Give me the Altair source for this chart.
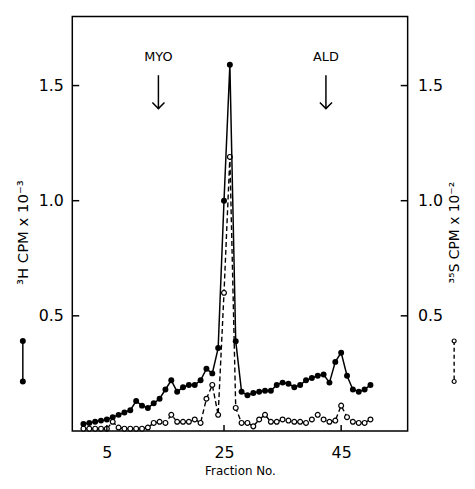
import altair as alt
import pandas as pd

# ---- data ----
fractions = list(range(1, 51))
h3_cpm = [0.03, 0.035, 0.04, 0.045, 0.05, 0.06, 0.07, 0.08, 0.09, 0.13,
          0.11, 0.10, 0.12, 0.14, 0.18, 0.22, 0.17, 0.19, 0.20, 0.20,
          0.22, 0.27, 0.25, 0.36, 1.00, 1.59, 0.39, 0.17, 0.155, 0.165,
          0.17, 0.175, 0.175, 0.20, 0.21, 0.205, 0.19, 0.20, 0.22, 0.23,
          0.24, 0.245, 0.21, 0.30, 0.34, 0.24, 0.18, 0.17, 0.18, 0.20]
s35_cpm = [0.01, 0.01, 0.01, 0.01, 0.01, 0.04, 0.015, 0.01, 0.01, 0.01,
           0.01, 0.015, 0.035, 0.04, 0.035, 0.07, 0.04, 0.04, 0.04, 0.05,
           0.035, 0.14, 0.20, 0.07, 0.60, 1.19, 0.10, 0.035, 0.035, 0.02,
           0.05, 0.07, 0.04, 0.04, 0.05, 0.045, 0.04, 0.04, 0.035, 0.05,
           0.07, 0.05, 0.04, 0.045, 0.11, 0.06, 0.04, 0.035, 0.035, 0.05]
y_ticks = [0.5, 1.0, 1.5]
x_ticks = [5, 25, 45]
marker_names = ["MYO", "ALD"]
marker_fractions = [13.8, 42.4]
marker_label_y = [1.625, 1.625]
arrow_top = [1.545, 1.545]
arrow_tip = [1.40, 1.40]

df = pd.DataFrame({"fraction": fractions, "h3": h3_cpm, "s35": s35_cpm})
ann = pd.DataFrame({"name": marker_names, "f": marker_fractions,
                    "ly": marker_label_y, "top": arrow_top, "tip": arrow_tip})
yt = pd.DataFrame({"t": y_ticks})
xt = pd.DataFrame({"t": x_ticks})
one = pd.DataFrame({"k": [0]})

W, H = 339, 419
FONT = "DejaVu Sans"
xs = alt.Scale(domain=[-0.9, 56.35], nice=False, zero=False)
ys = alt.Scale(domain=[0, 1.8], nice=False, zero=False)

common_axis = dict(tickSize=0, domain=False, grid=False, labelFont=FONT,
                   titleFont=FONT, labelColor="black", titleColor="black",
                   titleFontWeight="normal")

x_axis = alt.Axis(values=x_ticks, title="Fraction No.", labelFontSize=16,
                  labelPadding=14, titleFontSize=12, titlePadding=5,
                  **common_axis)
left_axis = alt.Axis(orient="left", values=y_ticks, format=".1f",
                     labelFontSize=16, labelPadding=9,
                     title="³H   CPM   x   10⁻³", titleFontSize=15,
                     titleAngle=270, titleX=-50, titleY=218,
                     titleAlign="center", titleBaseline="middle",
                     **common_axis)
right_axis = alt.Axis(orient="right", values=y_ticks, format=".1f",
                      labelFontSize=16, labelPadding=10,
                      title="³⁵S   CPM   x   10⁻²", titleFontSize=14,
                      titleAngle=270, titleX=47, titleY=218,
                      titleAlign="center", titleBaseline="middle",
                      **common_axis)

X = alt.X("fraction:Q", scale=xs, axis=x_axis)
Xn = alt.X("fraction:Q", scale=xs, axis=None)

s35_line = alt.Chart(df).mark_line(color="black", strokeWidth=1.4,
                                   strokeDash=[5, 3]).encode(
    x=Xn, y=alt.Y("s35:Q", scale=ys, axis=right_axis))
s35_pts = alt.Chart(df).mark_point(shape="circle", filled=True, fill="white",
                                   stroke="black", strokeWidth=1.2, size=24,
                                   opacity=1).encode(
    x=Xn, y=alt.Y("s35:Q", scale=ys, axis=None))
h3_line = alt.Chart(df).mark_line(color="black", strokeWidth=1.5).encode(
    x=X, y=alt.Y("h3:Q", scale=ys, axis=left_axis))
h3_pts = alt.Chart(df).mark_point(shape="circle", filled=True, color="black",
                                  size=36, opacity=1).encode(
    x=Xn, y=alt.Y("h3:Q", scale=ys, axis=None))

# inward ticks
left_ticks = alt.Chart(yt).mark_rule(color="black", strokeWidth=1.5).encode(
    y=alt.Y("t:Q", scale=ys, axis=None), x=alt.value(0), x2=alt.value(7))
right_ticks = alt.Chart(yt).mark_rule(color="black", strokeWidth=1.5).encode(
    y=alt.Y("t:Q", scale=ys, axis=None), x=alt.value(W - 7), x2=alt.value(W))
bottom_ticks = alt.Chart(xt).mark_rule(color="black", strokeWidth=1.5).encode(
    x=alt.X("t:Q", scale=xs, axis=None), y=alt.value(H - 6), y2=alt.value(H))

# MYO / ALD markers
ann_text = alt.Chart(ann).mark_text(font=FONT, fontSize=13, color="black").encode(
    x=alt.X("f:Q", scale=xs, axis=None), y=alt.Y("ly:Q", scale=ys, axis=None),
    text="name:N")
ann_shaft = alt.Chart(ann).mark_rule(color="black", strokeWidth=1.5).encode(
    x=alt.X("f:Q", scale=xs, axis=None), y=alt.Y("top:Q", scale=ys, axis=None),
    y2="tip:Q")
ann_head = alt.Chart(ann).mark_point(shape="M-1,-1L0,0L1,-1", filled=False,
                                     color="black", strokeWidth=1.5, size=150,
                                     opacity=1).encode(
    x=alt.X("f:Q", scale=xs, axis=None), y=alt.Y("tip:Q", scale=ys, axis=None))

# series keys drawn next to the axis titles
LX, RX = -50, W + 47
key_l_line = alt.Chart(one).mark_rule(color="black", strokeWidth=1.5).encode(
    x=alt.value(LX), y=alt.value(328), y2=alt.value(369))
key_l_p1 = alt.Chart(one).mark_point(shape="circle", filled=True, color="black",
                                     size=36, opacity=1).encode(
    x=alt.value(LX), y=alt.value(328))
key_l_p2 = alt.Chart(one).mark_point(shape="circle", filled=True, color="black",
                                     size=36, opacity=1).encode(
    x=alt.value(LX), y=alt.value(369))
key_r_line = alt.Chart(one).mark_rule(color="black", strokeWidth=1.4,
                                      strokeDash=[4, 3]).encode(
    x=alt.value(RX), y=alt.value(328), y2=alt.value(369))
key_r_p1 = alt.Chart(one).mark_point(shape="circle", filled=True, fill="white",
                                     stroke="black", strokeWidth=1.2, size=16,
                                     opacity=1).encode(
    x=alt.value(RX), y=alt.value(328))
key_r_p2 = alt.Chart(one).mark_point(shape="circle", filled=True, fill="white",
                                     stroke="black", strokeWidth=1.2, size=16,
                                     opacity=1).encode(
    x=alt.value(RX), y=alt.value(369))

chart = alt.layer(
    s35_line, s35_pts, h3_line, h3_pts,
    left_ticks, right_ticks, bottom_ticks,
    ann_text, ann_shaft, ann_head,
    key_l_line, key_l_p1, key_l_p2, key_r_line, key_r_p1, key_r_p2,
).resolve_axis(x="independent", y="independent").resolve_scale(
    x="shared", y="shared"
).properties(
    width=W, height=H,
    background="white",
    autosize=alt.AutoSizeParams(type="none"),
    padding={"left": 65, "top": 6, "right": 60, "bottom": 48},
).configure_view(stroke="black", strokeWidth=1.5)

chart.save("out.html", embed_options={"renderer": "svg", "actions": False})
